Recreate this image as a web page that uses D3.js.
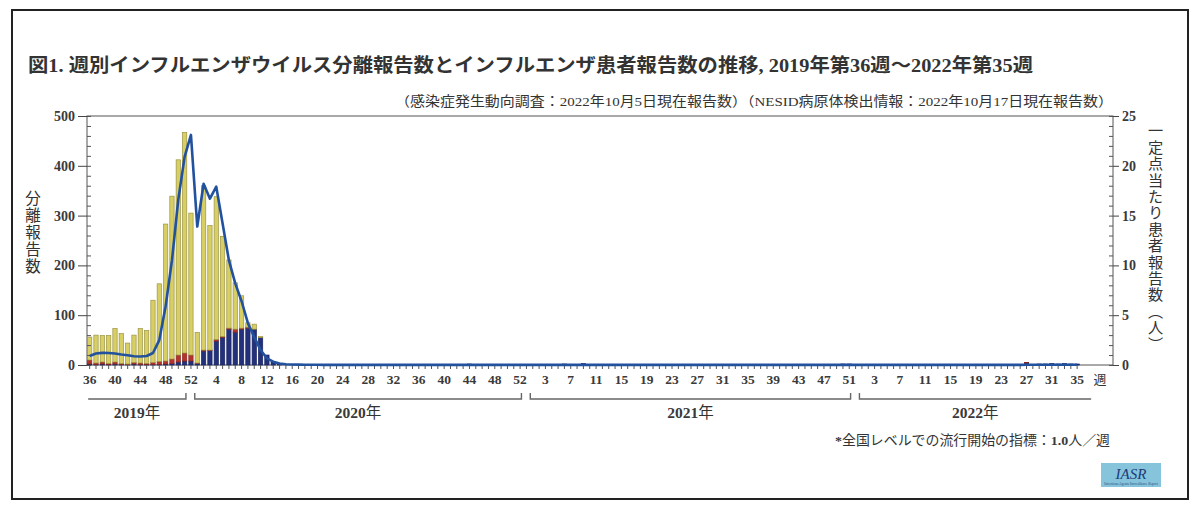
<!DOCTYPE html>
<html>
<head>
<meta charset="utf-8">
<script src="https://cdn.jsdelivr.net/npm/d3@7"></script>
<style>
  body { margin: 0; background: #fff; }
  svg { display: block; }
  text { font-family: "Liberation Serif", "Noto Sans CJK JP", serif; fill: #333; }
  .num { font-weight: bold; fill: #3a3a3a; }
  .cjk { font-family: "Noto Sans CJK JP", sans-serif; }
</style>
</head>
<body>
<svg id="chart" width="1200" height="513"></svg>
<script>
// Surveillance weeks shown: 2019 w36 through 2022 w35 (2020 has 53 weeks)
const years      = [2019, 2020, 2021, 2022];
const firstWeeks = [36, 1, 1, 1];
const lastWeeks  = [52, 53, 52, 35];

// Week numbers printed under the axis, per year
const tickWeeks = [
  [36, 40, 44, 48, 52],
  [4, 8, 12, 16, 20, 24, 28, 32, 36, 40, 44, 48, 52],
  [3, 7, 11, 15, 19, 23, 27, 31, 35, 39, 43, 47, 51],
  [3, 7, 11, 15, 19, 23, 27, 31, 35]
];

// Weekly virus isolation reports (stacked bars, left axis)
const isolatesH1pdm = [
  // 2019 w36-52
  46,56,53,56,67,60,42,55,69,66,125,156,275,327,392,443,285,
  // 2020 w1-53
  61,330,250,287,201,137,93,65,9,10,2,
  0,0,0,0,0,0,0,0,0,0, 0,0,0,0,0,0,0,0,0,0,
  0,0,0,0,0,0,0,0,0,0, 0,0,0,0,0,0,0,0,0,0, 0,0,
  // 2021 w1-52
  0,0,0,0,0,0,0,0,0,0, 0,0,0,0,0,0,0,0,0,0, 0,0,0,0,0,0,0,0,0,0,
  0,0,0,0,0,0,0,0,0,0, 0,0,0,0,0,0,0,0,0,0, 0,0,
  // 2022 w1-35
  0,0,0,0,0,0,0,0,0,0, 0,0,0,0,0,0,0,0,0,0, 0,0,0,0,0,0,0,0,0,0, 0,0,0,0,0
];
const isolatesH3 = [
  // 2019
  8,3,4,2,4,2,1,3,3,2,4,6,6,9,14,16,12,
  // 2020
  1,2,1,3,2,2,6,2,2,0,
  0,0,0,0,0,0,0,0,0,0, 0,0,0,0,0,0,0,0,0,0, 0,0,0,0,0,0,0,0,0,0,
  0,0,0,0,0,0,0,0,0,0, 0,0,0,
  // 2021
  0,0,0,0,0,0,0,0,0,0, 0,0,0,0,0,0,0,0,0,0, 0,0,0,0,0,0,0,0,0,0,
  0,0,0,0,0,0,0,0,0,0, 0,0,0,0,0,0,0,0,0,0, 0,0,
  // 2022
  0,0,0,0,0,0,0,0,0,0, 0,0,0,0,0,0,0,0,0,0, 0,0,0,0,0,0,1,0,0,0, 0,0,0,0,0
];
const isolatesB = [
  // 2019
  2,1,2,1,2,1,1,2,1,1,1,1,2,3,6,8,8,
  // 2020
  3,28,29,48,55,72,66,72,74,72,55,20,6,2,
  0,0,0,0,0,0,0,0,0,0, 0,0,0,0,0,0,0,0,0,0, 0,0,0,0,0,0,0,0,0,
  2, 0,0,0,0,0,0,0,0,0,
  // 2021
  0,0,0,0,0,2,0,0,3,
  0,0,0,0,0,0,0,0,0,0, 0,0,0,0,0,0,0,0,0,0, 0,0,0,0,0,0,0,0,0,0, 0,0,0,0,0,0,0,0,0,0,
  2,2,0,
  // 2022
  0,0,0,0,0,0,0,0,0,0, 0,0,0,0,0,0,0,0,0,0, 0,0,0,0,0,0,
  4,0,2,2,3,2,3,2,2
];

// Patients per sentinel site (line, right axis)
const perSentinel = [
  // 2019
  0.90,1.15,1.22,1.20,1.15,1.05,0.98,0.88,0.85,0.90,1.20,2.50,5.90,10.5,16.6,20.9,23.1,
  // 2020
  13.9,18.2,16.7,17.9,14.2,10.5,8.2,6.4,4.2,2.8,1.5,0.67,0.33,0.15,0.08,0.05,0.04,0.03,0.02,0.02,
  0.01,0.01,0.01,0.01,0.01,0.01,0.01,0.01,0.01,0.01, 0.01,0.01,0.01,0.01,0.01,0.01,0.01,0.01,0.01,0.01,
  0.01,0.01,0.01,0.01,0.01,0.01,0.01,0.01,0.01,0.01, 0.01,0.01,0.01,
  // 2021
  0.01,0.01,0.01,0.01,0.01,0.01,0.01,0.01,0.01,0.01, 0.01,0.01,0.01,0.01,0.01,0.01,0.01,0.01,0.01,0.01,
  0.01,0.01,0.01,0.01,0.01,0.01,0.01,0.01,0.01,0.01, 0.01,0.01,0.01,0.01,0.01,0.01,0.01,0.01,0.01,0.01,
  0.01,0.01,0.01,0.01,0.01,0.01,0.01,0.01,0.01,0.01, 0.01,0.01,
  // 2022
  0.01,0.01,0.01,0.01,0.01,0.01,0.01,0.01,0.01,0.01, 0.01,0.01,0.01,0.01,0.01,0.01,0.01,0.01,0.01,0.01,
  0.01,0.01,0.01,0.01,0.01,0.01,0.02,0.02,0.02,0.02, 0.02,0.02,0.02,0.02,0.02
];

const leftTicks  = [0, 100, 200, 300, 400, 500];
const rightTicks = [0, 5, 10, 15, 20, 25];

// ---- categories ----
const weeks = [];
years.forEach((yr, k) => {
  for (let w = firstWeeks[k]; w <= lastWeeks[k]; w++) weeks.push({ key: yr + "-" + w, year: yr, week: w });
});
const labelled = new Set();
years.forEach((yr, k) => tickWeeks[k].forEach(w => labelled.add(yr + "-" + w)));

const rows = weeks.map((d, i) => ({
  key: d.key,
  B: isolatesB[i], H3: isolatesH3[i], H1: isolatesH1pdm[i],
  rate: perSentinel[i]
}));

// ---- layout ----
const plot = { left: 87, right: 1113, top: 116, bottom: 365 };
const svg = d3.select("#chart");

const x = d3.scaleBand().domain(weeks.map(d => d.key)).range([86.5, 86.5 + weeks.length * 6.33]).padding(0);
const xc = k => x(k) + x.bandwidth() / 2;
const yL = d3.scaleLinear().domain([0, 500]).range([plot.bottom, plot.top]);
const yR = d3.scaleLinear().domain([0, 25]).range([plot.bottom, plot.top]);

// outer border
svg.append("rect").attr("x", 12).attr("y", 10).attr("width", 1176).attr("height", 489)
  .attr("fill", "none").attr("stroke", "#222").attr("stroke-width", 2);

// title + source note
svg.append("text").attr("x", 28).attr("y", 72)
  .attr("font-size", 19).attr("font-weight", "bold").style("fill", "#333")
  .attr("textLength", 1005).attr("lengthAdjust", "spacingAndGlyphs")
  .text("図1. 週別インフルエンザウイルス分離報告数とインフルエンザ患者報告数の推移, 2019年第36週～2022年第35週");
svg.append("text").attr("x", 395).attr("y", 106)
  .attr("font-size", 13.5)
  .attr("textLength", 718).attr("lengthAdjust", "spacingAndGlyphs")
  .text("（感染症発生動向調査：2022年10月5日現在報告数）（NESID病原体検出情報：2022年10月17日現在報告数）");

// plot frame
svg.append("rect").attr("x", plot.left).attr("y", plot.top)
  .attr("width", plot.right - plot.left).attr("height", plot.bottom - plot.top)
  .attr("fill", "none").attr("stroke", "#555").attr("stroke-width", 1);

// stacked bars
const stack = d3.stack().keys(["B", "H3", "H1"]);
const colors = { B: "#23317c", H3: "#b3342c", H1: "#d8cf64" };
const strokes = { B: "#1a2560", H3: "#8a2620", H1: "#9c9443" };
const barW = x.bandwidth() * 0.68;
svg.append("g").selectAll("g").data(stack(rows)).join("g")
  .attr("fill", s => colors[s.key]).attr("stroke", s => strokes[s.key]).attr("stroke-width", 0.7)
  .selectAll("rect").data(s => s.filter(d => d[1] - d[0] > 0)).join("rect")
  .attr("x", d => xc(d.data.key) - barW / 2)
  .attr("width", barW)
  .attr("y", d => yL(d[1]))
  .attr("height", d => yL(d[0]) - yL(d[1]));

// left axis: major outward, minor inward
const gL = svg.append("g").attr("transform", `translate(${plot.left},0)`)
  .call(d3.axisLeft(yL).tickValues(leftTicks).tickSize(9).tickPadding(3));
gL.select(".domain").remove();
gL.selectAll("line").attr("stroke", "#444");
gL.selectAll("text").attr("class", "num").attr("font-size", 14).attr("font-family", "Liberation Serif");
const gLm = svg.append("g").attr("transform", `translate(${plot.left},0)`)
  .call(d3.axisRight(yL).tickValues(d3.range(0, 501, 20)).tickSize(4).tickFormat(""));
gLm.select(".domain").remove();
gLm.selectAll("line").attr("stroke", "#555");

// right axis
const gR = svg.append("g").attr("transform", `translate(${plot.right},0)`)
  .call(d3.axisRight(yR).tickValues(rightTicks).tickSize(6).tickPadding(3));
gR.select(".domain").remove();
gR.selectAll("line").attr("stroke", "#444");
gR.selectAll("text").attr("class", "num").attr("font-size", 14).attr("font-family", "Liberation Serif");
const gRm = svg.append("g").attr("transform", `translate(${plot.right},0)`)
  .call(d3.axisLeft(yR).tickValues(d3.range(0, 26, 1)).tickSize(4).tickFormat(""));
gRm.select(".domain").remove();
gRm.selectAll("line").attr("stroke", "#555");

// bottom axis: one tick per week, numbers every four weeks
const weekOf = new Map(weeks.map(d => [d.key, d.week]));
const gX = svg.append("g").attr("transform", `translate(0,${plot.bottom})`)
  .call(d3.axisBottom(x).tickSize(4).tickPadding(5)
    .tickFormat(k => labelled.has(k) ? weekOf.get(k) : ""));
gX.select(".domain").remove();
gX.selectAll("line").attr("stroke", "#555");
gX.selectAll("text").attr("class", "num").attr("font-size", 13.5).attr("font-family", "Liberation Serif");
svg.append("text").attr("x", 1100).attr("y", 384).attr("text-anchor", "middle")
  .attr("class", "cjk").attr("font-size", 13).text("週");

// patients-per-sentinel line
const line = d3.line().x(d => xc(d.key)).y(d => yR(d.rate));
svg.append("path").datum(rows).attr("d", line)
  .attr("fill", "none").attr("stroke", "#22519e").attr("stroke-width", 2.6)
  .attr("stroke-linejoin", "round");

// year brackets
const brY = 399, brUp = 6;
years.forEach((yr, k) => {
  const first = yr + "-" + firstWeeks[k], last = yr + "-" + lastWeeks[k];
  const fullStart = firstWeeks[k] === 1;
  const fullEnd = k < years.length - 1;
  const x0 = fullStart ? xc(first) - 2.5 : xc(first) - 1.5;
  const x1 = fullEnd ? xc(last) - 5 : xc(last) + 14;
  let d = fullStart ? `M${x0},${brY - brUp}V${brY}` : `M${x0},${brY}`;
  d += `H${x1}`;
  if (fullEnd) d += `V${brY - brUp}`;
  svg.append("path").attr("d", d).attr("fill", "none").attr("stroke", "#666").attr("stroke-width", 1.4);
  const t = svg.append("text").attr("x", (x0 + x1) / 2).attr("y", 418).attr("text-anchor", "middle")
    .attr("font-size", 15.5);
  t.append("tspan").attr("class", "num").text(yr);
  t.append("tspan").attr("class", "cjk").text("年");
});

// vertical axis titles
svg.append("text").attr("class", "cjk").attr("x", 33).attr("y", 190)
  .style("writing-mode", "vertical-rl").style("letter-spacing", "1.5px")
  .attr("font-size", 15.5).text("分離報告数");
svg.append("text").attr("class", "cjk").attr("x", 1155.5).attr("y", 123)
  .style("writing-mode", "vertical-rl").style("letter-spacing", "1.2px")
  .attr("font-size", 15.2).text("一定点当たり患者報告数（人）");

// footnote
const fn = svg.append("text").attr("x", 835).attr("y", 445).attr("font-size", 13.5)
  .attr("textLength", 275).attr("lengthAdjust", "spacingAndGlyphs");
fn.append("tspan").attr("class", "num").text("*");
fn.append("tspan").attr("class", "cjk").text("全国レベルでの流行開始の指標：");
fn.append("tspan").attr("class", "num").text("1.0");
fn.append("tspan").attr("class", "cjk").text("人／週");

// IASR badge
svg.append("rect").attr("x", 1101).attr("y", 463).attr("width", 60).attr("height", 24)
  .attr("fill", "#86c4dc");
svg.append("text").attr("x", 1131).attr("y", 479).attr("text-anchor", "middle")
  .attr("font-size", 15).attr("font-style", "italic").style("fill", "#1c3a78")
  .text("IASR");
svg.append("text").attr("x", 1131).attr("y", 484.5).attr("text-anchor", "middle")
  .attr("font-size", 3.5).style("fill", "#2a4a80")
  .text("Infectious Agents Surveillance Report");
</script>
</body>
</html>
